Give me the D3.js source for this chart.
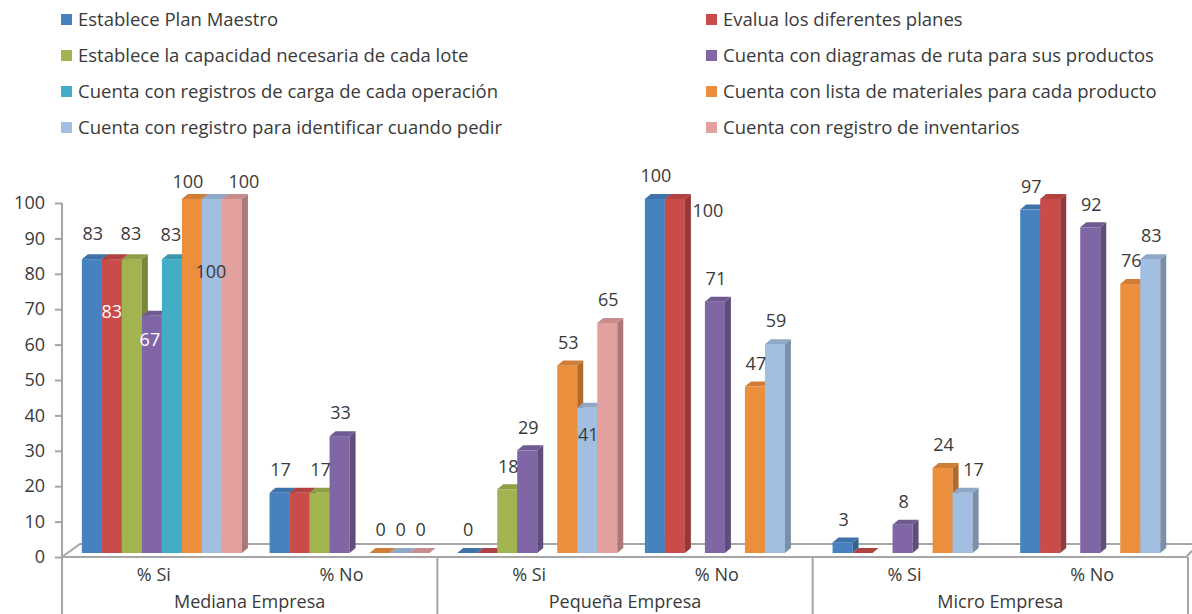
<!DOCTYPE html>
<html><head><meta charset="utf-8">
<script src="https://cdn.jsdelivr.net/npm/d3@7"></script>
<style>
html,body{margin:0;padding:0;background:#fff;}
svg{display:block;font-family:"Open Sans",Lato,sans-serif;}
</style></head>
<body>
<svg id="chart" width="1192" height="614"></svg>
<script>
// ---- data ----
const groups = ["Mediana Empresa", "Pequeña Empresa", "Micro Empresa"];
const answers = ["% Si", "% No"];
const seriesNames = [
  "Establece Plan Maestro",
  "Evalua los diferentes planes",
  "Establece la capacidad necesaria de cada lote",
  "Cuenta con diagramas de ruta para sus productos",
  "Cuenta con registros de carga de cada operación",
  "Cuenta con lista de materiales para cada producto",
  "Cuenta con registro para identificar cuando pedir",
  "Cuenta con registro de inventarios"
];
// values per series, categories: Mediana Si, Mediana No, Pequeña Si, Pequeña No, Micro Si, Micro No
const establecePlan       = [83, 17, 0, 100, 3, 97];
const evaluaPlanes        = [83, 17, 0, 100, 0, 100];
const capacidadLote       = [83, 17, 18, null, null, null];
const diagramasRuta       = [67, 33, 29, 71, 8, 92];
const registrosCarga      = [83, null, null, null, null, null];
const listaMateriales     = [100, 0, 53, 47, 24, 76];
const cuandoPedir         = [100, 0, 41, 59, 17, 83];
const registroInventarios = [100, 0, 65, null, null, null];
const yTicks = [0, 10, 20, 30, 40, 50, 60, 70, 80, 90, 100];

const seriesValues = [establecePlan, evaluaPlanes, capacidadLote, diagramasRuta,
  registrosCarga, listaMateriales, cuandoPedir, registroInventarios];
const colors = ["#4682bf", "#c94b4a", "#a2b44f", "#8066a5", "#43adc5", "#ec8f3c", "#a2bee0", "#e2a09f"];

// label layout tweaks (key: category index|series index)
const labelTweaks = {
  "0|1": {dx: -1, dy: 53, fill: "#fff"},
  "0|3": {dx: -3, dy: 24, fill: "#fff"},
  "0|0": {dy: -25}, "0|2": {dx: -2, dy: -25}, "0|4": {dx: -2, dy: -24},
  "0|5": {dx: -5, dy: -17},
  "0|6": {dx: -2, dy: 73},
  "0|7": {dx: 11, dy: -17},
  "1|1": {hide: true},
  "2|1": {hide: true},
  "2|6": {dy: 27},
  "3|1": {dx: 32, dy: 12},
  "4|1": {hide: true},
  "4|6": {dx: 10},
  "5|1": {hide: true}
};

// ---- layout ----
const svg = d3.select("#chart");
const cats = d3.range(groups.length * answers.length);
const x0 = d3.scaleBand().domain(cats).range([62, 1188]).paddingInner(0).paddingOuter(0);
const x1 = d3.scaleBand().domain(d3.range(seriesNames.length)).range([0, x0.bandwidth()])
  .paddingInner(0).paddingOuter(0.69).align(0.72);
const y = d3.scaleLinear().domain([0, 100]).range([557, 203]);
const lift = 4, dX = 6, dY = 5;
const textColor = "#3a3a3a";
const lineColor = "#a6a6a6";
const fontSize = "18px";

// floor
const fl = svg.append("g").attr("fill", "none").attr("stroke", lineColor).attr("stroke-width", 2);
fl.append("path").attr("d", `M62,${y(0)} L80,${y(0) - 13} L1192,${y(0) - 13}`);
fl.append("path").attr("d", `M62,${y(0)} L1186,${y(0)} L1194,${y(0) - 8}`);

// y axis
const yAxis = d3.axisLeft(y).tickValues(yTicks).tickSize(7).tickPadding(10);
const ya = svg.append("g").attr("transform", "translate(62,0)").call(yAxis);
ya.select(".domain").remove();
ya.selectAll(".tick line").attr("stroke", lineColor).attr("stroke-width", 2);
ya.selectAll(".tick text").attr("fill", textColor).style("font-size", fontSize)
  .style("font-family", "'Open Sans',Lato,sans-serif");
svg.append("line").attr("x1", 62).attr("x2", 62).attr("y1", y(100)).attr("y2", 614)
  .attr("stroke", lineColor).attr("stroke-width", 2);

// group separators
d3.range(1, groups.length + 1).forEach(i => {
  const xx = 62 + i * (1126 / groups.length);
  svg.append("line").attr("x1", xx).attr("x2", xx).attr("y1", y(0)).attr("y2", 614)
    .attr("stroke", lineColor).attr("stroke-width", 2);
});

// bars
const bars = svg.append("g");
cats.forEach(ci => {
  seriesValues.forEach((vals, si) => {
    const v = vals[ci];
    if (v === null) return;
    const xl = x0(ci) + x1(si), w = x1.bandwidth();
    const yb = y(0) - lift, yt = y(v) - lift;
    const c = d3.color(colors[si]);
    const g = bars.append("g");
    if (v > 0) {
      g.append("rect").attr("x", xl).attr("y", yt).attr("width", w).attr("height", yb - yt).attr("fill", c);
      g.append("path").attr("d", `M${xl + w},${yt} L${xl + w + dX},${yt - dY} L${xl + w + dX},${yb - dY} L${xl + w},${yb} Z`)
        .attr("fill", c.darker(0.8));
    }
    g.append("path").attr("d", `M${xl},${yt} L${xl + dX},${yt - dY} L${xl + w + dX},${yt - dY} L${xl + w},${yt} Z`)
      .attr("fill", c.darker(0.35));
  });
});

// labels
const labels = svg.append("g").style("font-size", fontSize).attr("text-anchor", "middle");
cats.forEach(ci => {
  seriesValues.forEach((vals, si) => {
    const v = vals[ci];
    if (v === null) return;
    const t = labelTweaks[ci + "|" + si] || {};
    if (t.hide) return;
    const cx = x0(ci) + x1(si) + x1.bandwidth() / 2 + 1 + (t.dx || 0);
    const cy = y(v) - lift + (t.dy !== undefined ? t.dy : -23);
    labels.append("text").attr("x", cx).attr("y", cy).attr("dy", "0.35em")
      .attr("fill", t.fill || textColor).text(v);
  });
});

// category axis labels
const xAxis = d3.axisBottom(x0).tickSize(0).tickPadding(0).tickFormat(d => answers[d % answers.length]);
const xa = svg.append("g").attr("transform", `translate(-2,${y(0) + 11})`).call(xAxis);
xa.select(".domain").remove();
xa.selectAll(".tick text").attr("fill", textColor).style("font-size", fontSize)
  .style("font-family", "'Open Sans',Lato,sans-serif");
const xg = d3.scaleBand().domain(groups).range([62, 1188]);
svg.append("g").selectAll("text").data(groups).join("text")
  .attr("x", d => xg(d) + xg.bandwidth() / 2).attr("y", 608)
  .attr("text-anchor", "middle").attr("fill", textColor).style("font-size", fontSize)
  .text(d => d);

// legend
const legend = svg.append("g").style("font-size", "18.5px");
seriesNames.forEach((name, i) => {
  const col = i % 2, row = Math.floor(i / 2);
  const lx = col === 0 ? 61 : 706, ly = 20 + row * 36;
  const g = legend.append("g").attr("transform", `translate(${lx},${ly})`);
  g.append("rect").attr("x", 0).attr("y", -6).attr("width", 11).attr("height", 11).attr("fill", colors[i]);
  g.append("text").attr("x", 17).attr("y", 0).attr("dy", "0.35em").attr("fill", textColor).text(name);
});
</script>
</body></html>
